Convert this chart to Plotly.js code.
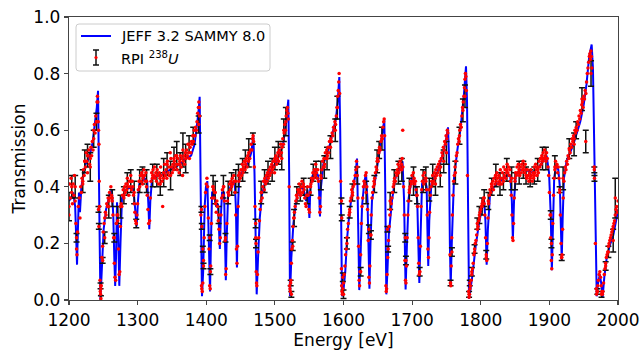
<!DOCTYPE html>
<html><head><meta charset="utf-8">
<script src="https://cdn.plot.ly/plotly-3.0.1.min.js"></script>
<style>html,body{margin:0;padding:0;background:#fff}#chart{width:642px;height:350px}</style>
</head><body><div id="chart"></div>
<script>
// ---------------- data ----------------
const xTickVals = [1200,1300,1400,1500,1600,1700,1800,1900,2000];
const xTickText = ['1200','1300','1400','1500','1600','1700','1800','1900','2000'];
const yTickVals = [0,0.2,0.4,0.6,0.8,1.0];
const yTickText = ['0.0','0.2','0.4','0.6','0.8','1.0'];
const seriesNames = ['JEFF 3.2 SAMMY 8.0', 'RPI <sup>238</sup><i>U</i>'];

// SAMMY fit curve [energy eV, transmission]
const curvePts = [
[1200,.35],[1203,.36],[1206,.38],[1209,.33],[1210.5,.22],[1211.7,.125],[1213,.25],[1214.5,.38],[1216,.31],[1218,.40],
[1220,.43],[1224,.48],[1229,.50],[1234,.55],[1238,.63],[1240.5,.68],[1242.3,.739],[1243.5,.55],[1244.5,.25],[1245.8,0],
[1247,.07],[1248,.13],[1250.5,.25],[1254,.32],[1258.8,.37],[1262.5,.39],[1264.5,.30],[1266,.15],[1267.3,.05],[1268.5,.15],
[1270,.345],[1271.5,.25],[1273.3,.05],[1275,.20],[1277.2,.36],[1283,.39],[1290,.40],[1294,.39],[1296.5,.33],[1298.6,.26],
[1300.5,.35],[1302.5,.41],[1310,.43],[1314,.42],[1315.8,.33],[1317,.25],[1318.5,.35],[1321,.43],[1329,.44],[1335,.44],
[1340,.45],[1348,.46],[1355,.47],[1362,.48],[1370,.50],[1378,.51],[1383,.55],[1386,.60],[1388.5,.66],[1390.4,.718],
[1391.8,.50],[1392.8,.20],[1393.8,.013],[1395.5,.10],[1397.7,.33],[1399.5,.40],[1401.6,.42],[1403.5,.25],[1405.5,.03],[1407,.22],
[1408.5,.38],[1411,.38],[1414.5,.33],[1417,.34],[1418.5,.27],[1419.8,.18],[1421.2,.29],[1423,.38],[1426,.38],[1427.3,.25],
[1428.5,.07],[1429.8,.22],[1432,.38],[1437,.41],[1441.5,.42],[1443.3,.32],[1444.7,.115],[1446.2,.32],[1448,.44],[1455,.46],
[1462,.49],[1465.5,.52],[1468.6,.58],[1470.3,.45],[1471.8,.22],[1473.5,.02],[1475.5,.15],[1478,.29],[1481,.37],[1485,.41],
[1490,.44],[1497,.47],[1503,.49],[1508,.52],[1512,.55],[1516,.62],[1518.2,.67],[1519.6,.708],[1520.8,.45],[1522,.013],
[1524,.15],[1527,.27],[1531,.35],[1535,.39],[1540,.40],[1543,.38],[1545.5,.35],[1547.5,.39],[1549,.35],[1550.3,.29],
[1551.8,.40],[1555,.44],[1559,.46],[1563,.44],[1564.5,.38],[1565.7,.295],[1567.2,.40],[1570.6,.48],[1575,.51],[1580.3,.55],
[1585,.60],[1589,.64],[1591.5,.70],[1593.9,.788],[1595.2,.60],[1596.5,.25],[1597.8,.013],[1600.2,.04],[1602.6,.10],[1605,.21],
[1607.5,.28],[1612.4,.38],[1617.2,.44],[1619.7,.50],[1621.3,.30],[1623,.035],[1624.8,.15],[1627,.33],[1630,.41],[1632.8,.448],
[1635,.35],[1636.3,.20],[1637.8,.04],[1639.3,.20],[1641.5,.35],[1644,.39],[1648.8,.47],[1653.6,.55],[1657,.60],[1659.5,.636],
[1660.8,.40],[1662.4,.02],[1664,.10],[1666,.23],[1670.6,.35],[1675.5,.43],[1682.8,.47],[1686,.49],[1688.3,.35],[1690.5,.037],
[1692.5,.20],[1695,.36],[1699.5,.43],[1702,.43],[1705,.40],[1707.5,.35],[1709,.20],[1710.5,.06],[1712,.20],[1714.4,.41],
[1718,.43],[1721.2,.40],[1722.3,.25],[1723.5,.12],[1725,.28],[1728,.41],[1732,.43],[1736.7,.45],[1744,.51],[1749,.56],
[1752.3,.61],[1753.8,.50],[1755,.20],[1756.2,.05],[1757.8,.20],[1761,.43],[1765.9,.53],[1770.8,.61],[1775.6,.73],[1778.5,.826],
[1780,.70],[1781.5,.30],[1782.9,.004],[1784.5,.03],[1787.7,.084],[1792.6,.19],[1797.4,.27],[1802.3,.33],[1805,.35],[1806.8,.28],
[1808.6,.125],[1810.4,.25],[1813.4,.37],[1819.2,.40],[1829,.42],[1838,.44],[1843,.44],[1845.3,.35],[1846.8,.213],[1848.5,.35],
[1851,.44],[1857,.46],[1865,.46],[1875,.45],[1885,.47],[1890,.49],[1896,.51],[1899.5,.45],[1902,.30],[1903.6,.105],
[1905.3,.30],[1907,.43],[1910,.48],[1913,.46],[1915.3,.40],[1916.8,.28],[1918,.14],[1919.3,.28],[1921.2,.43],[1925,.49],
[1930,.52],[1935,.55],[1940,.59],[1945,.63],[1950,.69],[1954,.76],[1958,.86],[1961.6,.903],[1963.5,.82],[1965.5,.47],
[1967.3,.15],[1969,.013],[1971,.06],[1973.5,.09],[1975.5,.06],[1977.6,.01],[1980,.08],[1983.5,.149],[1988.3,.195],[1993.2,.23],
[1998,.29],[2000,.32]
];

// RPI measured points with uncertainty [energy, transmission, error]
const errPts = [
[1200,.33,.05],[1204,.40,.04],[1209,.40,.04],[1211,.22,.015],[1220,.42,.04],[1223,.49,.04],[1227,.51,.04],[1231,.47,.05],
[1236,.57,.03],[1240,.63,.03],[1243,.32,.01],[1243.5,.26,.01],[1246,.05,.01],[1246.5,.005,.01],[1249,.14,.01],[1252,.22,.02],
[1258,.33,.04],[1263,.36,.03],[1266,.22,.015],[1271,.30,.03],[1275,.33,.04],[1280,.37,.03],[1285,.41,.04],[1290,.42,.04],
[1295,.38,.04],[1298,.27,.015],[1303,.42,.04],[1307,.44,.03],[1313,.42,.04],[1322,.44,.04],[1328,.44,.04],[1333,.41,.04],
[1338,.45,.05],[1343,.48,.04],[1348,.44,.05],[1353,.50,.04],[1357,.51,.05],[1362,.48,.04],[1366,.53,.06],[1370,.50,.05],
[1375,.55,.03],[1381,.58,.03],[1389,.62,.03],[1393,.32,.01],[1393.5,.26,.01],[1395,.18,.01],[1396,.12,.01],[1405,.22,.01],
[1406,.10,.01],[1410,.40,.04],[1413,.38,.04],[1418,.30,.03],[1425,.40,.04],[1428,.22,.015],[1432,.38,.04],[1437,.41,.04],
[1443,.42,.04],[1447,.44,.04],[1453,.46,.04],[1457,.49,.04],[1462,.52,.05],[1468,.57,.02],[1472,.27,.015],[1472.5,.20,.015],
[1480,.38,.04],[1485,.42,.04],[1490,.45,.04],[1496,.46,.04],[1500,.50,.04],[1505,.52,.04],[1510,.50,.04],[1513,.60,.04],
[1516,.63,.05],[1523,.06,.01],[1524,.02,.01],[1526,.19,.015],[1528,.29,.03],[1532,.37,.03],[1537,.38,.03],[1542,.40,.03],
[1547,.37,.03],[1552,.40,.03],[1556,.45,.03],[1560,.46,.03],[1567,.44,.05],[1572,.47,.04],[1576,.50,.04],[1581,.54,.04],
[1588,.60,.04],[1591,.68,.04],[1597,.35,.01],[1597.5,.29,.01],[1599,.08,.015],[1600,.02,.015],[1605,.20,.02],[1609,.31,.02],
[1613,.38,.03],[1620,.44,.03],[1625,.10,.015],[1633,.38,.04],[1637,.25,.015],[1640,.23,.015],[1645,.41,.03],[1649,.49,.04],
[1652,.53,.03],[1656,.57,.04],[1664,.25,.01],[1665,.18,.01],[1668,.35,.03],[1674,.42,.04],[1680,.45,.04],[1685,.46,.04],
[1690,.22,.015],[1691,.14,.015],[1696,.39,.04],[1702,.42,.05],[1707,.37,.03],[1711,.10,.015],[1716,.42,.04],[1720,.43,.04],
[1725,.39,.04],[1730,.44,.04],[1734,.41,.04],[1741,.44,.04],[1746,.49,.04],[1750,.52,.04],[1756,.06,.01],[1758,.17,.015],
[1763,.45,.04],[1769,.58,.03],[1774,.67,.04],[1777,.72,.04],[1783,.02,.01],[1784,.06,.01],[1787,.10,.015],[1791,.18,.015],
[1795,.27,.02],[1798,.30,.03],[1802,.33,.03],[1805,.36,.03],[1808,.16,.015],[1811,.35,.03],[1816,.40,.03],[1822,.44,.04],
[1828,.41,.04],[1833,.42,.03],[1838,.46,.04],[1845,.43,.04],[1850,.42,.03],[1856,.45,.04],[1862,.46,.03],[1866,.44,.03],
[1872,.43,.03],[1878,.44,.03],[1883,.46,.04],[1890,.50,.04],[1895,.50,.04],[1902,.30,.015],[1903,.20,.015],[1908,.47,.04],
[1915,.39,.01],[1918,.15,.01],[1920,.43,.04],[1929,.535,.035],[1936,.55,.04],[1939,.60,.03],[1947.5,.71,.04],[1953,.56,.04],
[1960.7,.80,.045],[1965.5,.46,.01],[1965.7,.43,.01],[1970,.03,.01],[1976,.02,.01],[1982,.12,.015],[1986,.17,.02],[1993,.21,.04],
[1996,.36,.07]
];

// RPI measured points (finer binning) [energy, transmission]
const dots1200 = [
[1200,.30],[1201,.41],[1202,.36],[1203,.43],[1204,.38],[1205,.34],[1206,.41],[1207,.37],[1208,.44],[1209,.35],[1210,.27],[1211,.18],
[1211.6,.16],[1212.4,.24],[1213.5,.33],[1215,.36],[1216,.29],[1217,.40],[1218,.38],[1219,.43],[1220,.41],[1221,.46],[1222,.44],
[1223,.49],[1224,.47],[1225,.52],[1226,.49],[1227,.45],[1228,.51],[1229,.53],[1230,.48],[1231,.50],[1232,.54],[1233,.51],[1234,.56],
[1235,.53],[1236,.60],[1237,.62],[1238,.59],[1239,.65],[1240,.63],[1240.8,.70],[1241.4,.72],[1242,.70],[1242.6,.63],[1243,.60],
[1243.6,.55],[1244,.42],[1244.4,.33],[1245.2,.07],[1245.6,.03],[1246,.02],[1246.4,.04],[1247,.05],[1248,.15],[1249,.19],[1250,.24],
[1251,.27],[1252,.29],[1253,.31],[1254,.30],[1255,.34],[1256,.33],[1257,.36],[1258,.35],[1259,.38],[1260,.36],[1261,.40],[1262,.37],
[1263,.35],[1264,.30],[1265,.22],[1266,.13],[1267,.08],[1268,.07],[1269,.27],[1270,.30],[1271,.28],[1272,.18],[1273,.09],[1274,.10],
[1275,.26],[1276,.34],[1277,.33],[1278,.37],[1279,.39],[1280,.36],[1281,.40],[1282,.38],[1283,.41],[1284,.39],[1285,.43],[1286,.40],
[1287,.37],[1288,.42],[1289,.40],[1290,.44],[1291,.39],[1292,.42],[1293,.40],[1294,.37],[1295,.34],[1296,.31],[1297,.28],[1298,.27],
[1299,.30],[1300,.34],[1301,.39],[1302,.42],[1303,.40],[1304,.44],[1305,.42],[1306,.45],[1307,.41],[1308,.43],[1309,.46],[1310,.44],
[1311,.42],[1312,.45],[1313,.40],[1314,.37],[1315,.32],[1316,.27],[1317.5,.28],[1318.5,.36],[1319.5,.42],[1320.5,.45],[1321.5,.43],
[1322.5,.46],[1323.5,.44],[1324.5,.47],[1325.5,.43],[1326.5,.45],[1327.5,.42],[1328.5,.46],[1329.5,.44],[1330.5,.41],[1331.5,.45],
[1332.5,.43],[1333.5,.47],[1334.5,.44],[1335.5,.42],[1336.5,.33],[1337.5,.43],[1338.5,.45],[1339.5,.48],[1340.5,.44],[1341.5,.46],
[1342.5,.43],[1343.5,.49],[1344.5,.45],[1345.5,.47],[1346.5,.44],[1347.5,.52],[1348.5,.50],[1349.5,.47],[1350.5,.45],[1351.5,.48],
[1352.5,.46],[1353.5,.49],[1354.5,.47],[1355.5,.51],[1356.5,.48],[1357.5,.46],[1358.5,.50],[1359.5,.48],[1360.5,.45],[1361.5,.49],
[1362.5,.51],[1363.5,.47],[1364.5,.50],[1365.5,.44],[1366.5,.49],[1367.5,.51],[1368.5,.48],[1369.5,.52],[1370.5,.50],[1371.5,.53],
[1372.5,.51],[1373.5,.55],[1374.5,.52],[1375.5,.50],[1376.5,.54],[1377.5,.52],[1378.5,.56],[1379.5,.55],[1380.5,.58],[1381.5,.56],
[1382.5,.60],[1383.5,.58],[1384.5,.61],[1385.5,.60],[1386.5,.63],[1387.5,.66],[1388.5,.68],[1389.2,.70],[1389.8,.68],[1390.4,.65],
[1392.2,.30]
];
const dots1400 = [
[1393,.05],[1393.5,.04],[1394.2,.03],[1395,.06],[1396,.14],[1397,.22],[1398,.33],[1399,.38],[1400,.41],[1401,.43],[1402,.40],
[1403,.29],[1404,.18],[1405,.05],[1405.8,.04],[1406.5,.12],[1407.5,.27],[1408.5,.36],[1409.5,.40],[1410.5,.39],[1411.5,.36],
[1412.5,.38],[1413.5,.34],[1414.5,.31],[1415.5,.35],[1416.5,.33],[1417.5,.28],[1418.5,.25],[1419.5,.20],[1420.5,.22],[1421.5,.30],
[1422.5,.36],[1423.5,.39],[1424.5,.37],[1425.5,.40],[1426.5,.35],[1427.5,.21],[1428.3,.09],[1429,.11],[1430,.27],[1431,.35],
[1432,.38],[1433,.37],[1434,.41],[1435,.39],[1436,.42],[1437,.40],[1438,.43],[1439,.41],[1440,.44],[1441,.42],[1442,.38],[1443,.30],
[1444,.18],[1444.8,.13],[1445.5,.19],[1446.5,.33],[1447.5,.42],[1448.5,.45],[1449.5,.43],[1450.5,.46],[1451.5,.44],[1452.5,.48],
[1453.5,.45],[1454.5,.47],[1455.5,.49],[1456.5,.46],[1457.5,.48],[1458.5,.50],[1459.5,.47],[1460.5,.51],[1461.5,.49],[1462.5,.52],
[1463.5,.50],[1464.5,.53],[1465.5,.55],[1466.5,.53],[1467.5,.57],[1468.3,.58],[1469,.56],[1470,.47],[1471,.33],[1472,.22],
[1472.8,.10],[1473.3,.06],[1473.8,.05],[1474.5,.09],[1475.5,.17],[1476.5,.22],[1477.5,.28],[1478.5,.32],[1479.5,.35],[1480.5,.38],
[1481.5,.36],[1482.5,.40],[1483.5,.42],[1484.5,.39],[1485.5,.43],[1486.5,.41],[1487.5,.44],[1488.5,.42],[1489.5,.45],[1490.5,.43],
[1491.5,.46],[1492.5,.44],[1493.5,.47],[1494.5,.45],[1495.5,.48],[1496.5,.46],[1497.5,.49],[1498.5,.47],[1499.5,.45],[1500.5,.49],
[1501.5,.51],[1502.5,.48],[1503.5,.50],[1504.5,.52],[1505.5,.49],[1506.5,.53],[1507.5,.51],[1508.5,.55],[1509.5,.52],[1510.5,.54],
[1511.5,.57],[1512.5,.55],[1513.5,.59],[1514.5,.62],[1515.5,.60],[1516.5,.65],[1517.5,.67],[1518.3,.68],[1519,.66],[1519.6,.64],
[1520.8,.40],[1521.5,.05],[1522,.04],[1522.5,.03],[1523.2,.07],[1524,.13],[1524.8,.18],[1525.5,.21],[1526.5,.26],[1527.5,.29],
[1528.5,.31],[1529.5,.33],[1530.5,.35],[1531.5,.37],[1532.5,.36],[1533.5,.39],[1534.5,.38],[1535.5,.41],[1536.5,.39],[1537.5,.37],
[1538.5,.40],[1539.5,.42],[1540.5,.38],[1541.5,.41],[1542.5,.39],[1543.5,.36],[1544.5,.34],[1545.5,.33],[1546.5,.37],[1547.5,.40],
[1548.5,.37],[1549.5,.32],[1550.5,.31],[1551.5,.38],[1552.5,.41],[1553.5,.43],[1554.5,.42],[1555.5,.45],[1556.5,.43],[1557.5,.46],
[1558.5,.44],[1559.5,.48],[1560.5,.45],[1561.5,.43],[1562.5,.46],[1563.5,.42],[1564.5,.36],[1565.5,.31],[1566.5,.33],[1567.5,.43],
[1568.5,.46],[1569.5,.49],[1570.5,.47],[1571.5,.50],[1572.5,.48],[1573.5,.52],[1574.5,.50],[1575.5,.53],[1576.5,.51],[1577.5,.54],
[1578.5,.52],[1579.5,.56],[1580.5,.54],[1581.5,.57],[1582.5,.56],[1583.5,.59],[1584.5,.58],[1585.5,.61],[1586.5,.60],[1587.5,.63],
[1588.5,.62],[1589.5,.65],[1590.5,.68],[1591.5,.72],[1592.3,.74],[1593,.77],[1593.6,.80],[1594.4,.73],[1595.8,.42],[1597,.11]
];
const dots1600 = [
[1597.3,.05],[1597.8,.03],[1598.3,.02],[1599,.04],[1600,.06],[1601,.09],[1602,.12],[1603,.16],[1604,.18],[1605,.22],[1606,.25],
[1607,.27],[1608,.30],[1609,.32],[1610,.35],[1611,.36],[1612,.39],[1613,.37],[1614,.40],[1615,.42],[1616,.41],[1617,.44],[1618,.46],
[1619,.49],[1620,.47],[1621,.36],[1622,.19],[1622.8,.07],[1623.4,.05],[1624.2,.10],[1625,.16],[1626,.27],[1627,.33],[1628,.36],
[1629,.40],[1630,.42],[1631,.41],[1632,.44],[1633,.45],[1634,.40],[1635,.32],[1636,.21],[1637,.08],[1637.8,.06],[1638.5,.12],
[1639.5,.23],[1640.5,.30],[1641.5,.36],[1642.5,.38],[1643.5,.40],[1644.5,.42],[1645.5,.43],[1646.5,.45],[1647.5,.47],[1648.5,.46],
[1649.5,.50],[1650.5,.49],[1651.5,.52],[1652.5,.54],[1653.5,.53],[1654.5,.56],[1655.5,.58],[1656.5,.57],[1657.5,.61],[1658.5,.63],
[1659.3,.64],[1660,.58],[1661.8,.05],[1662.3,.03],[1662.8,.04],[1663.5,.09],[1664.5,.15],[1665.5,.21],[1666.5,.26],[1667.5,.30],
[1668.5,.32],[1669.5,.34],[1670.5,.36],[1671.5,.38],[1672.5,.40],[1673.5,.41],[1674.5,.43],[1675.5,.42],[1676.5,.45],[1677.5,.44],
[1678.5,.46],[1679.5,.48],[1680.5,.45],[1681.5,.47],[1682.5,.49],[1683.5,.46],[1684.5,.48],[1685.5,.50],[1686.3,.60],[1686.5,.47],
[1687.5,.40],[1688.5,.30],[1689.5,.14],[1690.3,.07],[1691,.06],[1691.8,.12],[1692.8,.22],[1693.8,.30],[1694.8,.35],[1695.8,.38],
[1696.8,.40],[1697.8,.42],[1698.8,.41],[1699.8,.44],[1700.8,.42],[1701.8,.45],[1702.8,.43],[1703.8,.41],[1704.8,.42],[1705.8,.39],
[1706.8,.37],[1707.8,.33],[1708.8,.22],[1709.6,.13],[1710.4,.09],[1711.2,.10],[1712,.19],[1713,.33],[1714,.39],[1715,.42],[1716,.44],
[1717,.41],[1718,.45],[1719,.43],[1720,.42],[1721,.39],[1722,.30],[1723,.18],[1723.8,.15],[1724.6,.22],[1725.5,.31],[1726.5,.37],
[1727.5,.40],[1728.5,.42],[1729.5,.41],[1730.5,.44],[1731.5,.42],[1732.5,.45],[1733.5,.43],[1734.5,.46],[1735.5,.44],[1736.5,.47],
[1737.5,.45],[1738.5,.48],[1739.5,.46],[1740.5,.49],[1741.5,.47],[1742.5,.50],[1743.5,.52],[1744.5,.51],[1745.5,.54],[1746.5,.53],
[1747.5,.56],[1748.5,.55],[1749.5,.58],[1750.5,.57],[1751.3,.60],[1752,.59],[1755.2,.16],[1755.8,.06],[1756.4,.05],[1757,.12],
[1757.8,.22],[1758.6,.30],[1759.5,.37],[1760.5,.42],[1761.5,.44],[1762.5,.47],[1763.5,.49],[1764.5,.51],[1765.5,.52],[1766.5,.55],
[1767.5,.57],[1768.5,.56],[1769.5,.60],[1770.5,.62],[1771.5,.61],[1772.5,.65],[1773.5,.68],[1774.5,.70],[1775.5,.72],[1776.3,.75],
[1777,.78],[1777.6,.80],[1778.3,.79],[1779,.74],[1780.6,.44]
];
const dots1800 = [
[1782.3,.03],[1783,.01],[1783.6,.02],[1784.3,.04],[1785,.05],[1786,.07],[1787,.09],[1788,.11],[1789,.13],[1790,.16],[1791,.17],
[1792,.20],[1793,.21],[1794,.23],[1795,.25],[1796,.26],[1797,.28],[1798,.29],[1799,.31],[1800,.32],[1801,.33],[1802,.34],[1803,.35],
[1804,.36],[1805,.34],[1806,.30],[1807,.22],[1808,.15],[1808.8,.14],[1809.6,.20],[1810.5,.29],[1811.5,.34],[1812.5,.37],[1813.5,.39],
[1814.5,.38],[1815.5,.41],[1816.5,.40],[1817.5,.42],[1818.5,.39],[1819.5,.43],[1820.5,.41],[1821.5,.44],[1822.5,.42],[1823.5,.45],
[1824.5,.43],[1825.5,.41],[1826.5,.44],[1827.5,.42],[1828.5,.46],[1829.5,.43],[1830.5,.41],[1831.5,.45],[1832.5,.43],[1833.5,.47],
[1834.5,.44],[1835.5,.46],[1836.5,.43],[1837.5,.45],[1838.5,.48],[1839.5,.45],[1840.5,.47],[1841.5,.44],[1842.5,.46],[1843.5,.42],
[1844.5,.37],[1845.5,.30],[1846.3,.22],[1847,.21],[1847.8,.27],[1848.8,.36],[1849.8,.43],[1850.8,.45],[1851.8,.44],[1852.8,.47],
[1853.8,.45],[1854.8,.48],[1855.8,.46],[1856.8,.44],[1857.8,.47],[1858.8,.45],[1859.8,.48],[1860.8,.46],[1861.8,.49],[1862.8,.47],
[1863.8,.45],[1864.8,.48],[1866,.46],[1867,.43],[1868,.46],[1869,.44],[1870,.42],[1871,.45],[1872,.43],[1873,.46],[1874,.44],
[1875,.42],[1876,.45],[1877,.43],[1878,.47],[1879,.45],[1880,.48],[1881,.46],[1882,.44],[1883,.47],[1884,.45],[1885,.49],[1886,.47],
[1887,.50],[1888,.48],[1889,.51],[1890,.49],[1891,.52],[1892,.50],[1893,.53],[1894,.51],[1895,.49],[1896,.52],[1897,.50],[1898,.47],
[1899,.44],[1900,.38],[1901,.30],[1902,.22],[1902.8,.14],[1903.5,.11],[1904.2,.16],[1905,.27],[1906,.37],[1907,.43],[1908,.46],
[1909,.49],[1910,.47],[1911,.48],[1912,.45],[1913,.47],[1914,.43],[1915,.38],[1916,.30],[1917,.20],[1917.8,.15],[1918.5,.16],
[1919.3,.25],[1920.2,.36],[1921.2,.42],[1922.2,.45],[1923.2,.47],[1924.2,.46],[1925.2,.49],[1926.2,.48],[1927.2,.51],[1928.2,.50],
[1929.2,.53],[1930.2,.52],[1931.2,.55],[1932.2,.54],[1933.2,.57],[1934.2,.56],[1935.2,.58],[1936.2,.57],[1937.2,.60],[1938.2,.59],
[1939.2,.61],[1940.2,.60],[1941.2,.63],[1942.2,.62],[1943.2,.65],[1944.2,.64],[1945.2,.67],[1946.2,.66],[1947.2,.69],[1948.2,.70],
[1949.2,.68],[1950.2,.72],[1951.2,.71],[1952.2,.74],[1953.2,.73],[1954.2,.77],[1955.2,.80],[1956.2,.82],[1957.2,.84],[1958.2,.86],
[1959,.87],[1959.8,.85],[1960.5,.88],[1961.2,.86],[1962,.82],[1965.3,.47],[1967,.20],[1968.2,.04],[1968.8,.02],[1969.5,.03],
[1970.5,.05],[1971.5,.07],[1972.5,.09],[1973.5,.10],[1974.5,.08],[1975.5,.05],[1976.5,.03],[1977.3,.02],[1978,.03],[1979,.06],
[1980,.09],[1981,.11],[1982,.13],[1983,.15],[1984,.16],[1985,.17],[1986,.19],[1987,.20],[1988,.21],[1989,.22],[1990,.23],[1991,.24],
[1992,.25],[1993,.26],[1994,.27],[1995,.28],[1996,.30],[1997,.32],[1998,.33],[1999,.31],[2000,.35]
];

// ---------------- chart ----------------
const dots = dots1200.concat(dots1400, dots1600, dots1800);
const W = 642, H = 350, M = {l:69, r:24, t:17, b:50};
const PW = W - M.l - M.r, PH = H - M.t - M.b;
const fx = p => (p - M.l) / PW;          // pixel -> paper x
const fy = p => (H - M.b - p) / PH;      // pixel -> paper y

const traces = [
  {x: curvePts.map(p=>p[0]), y: curvePts.map(p=>p[1]), type:'scatter', mode:'lines',
   line:{color:'#0000ff', width:2}, name: seriesNames[0], hoverinfo:'skip'},
  {x: errPts.map(p=>p[0]), y: errPts.map(p=>p[1]), type:'scatter', mode:'markers',
   marker:{color:'#ff0000', size:3.5},
   error_y:{type:'data', array: errPts.map(p=>p[2]), visible:true, color:'#111111', thickness:1.5, width:3},
   name: seriesNames[1], hoverinfo:'skip'},
  {x: dots.map(p=>p[0]), y: dots.map(p=>p[1]), type:'scatter', mode:'markers',
   marker:{color:'#ff0000', size:3.5}, showlegend:false, hoverinfo:'skip'}
];

// hand-built legend (matplotlib style)
const L = {x0:76, x1:270, y0:24, y1:71, r:3};
const rr = `M ${fx(L.x0+L.r)} ${fy(L.y0)} L ${fx(L.x1-L.r)} ${fy(L.y0)} Q ${fx(L.x1)} ${fy(L.y0)} ${fx(L.x1)} ${fy(L.y0+L.r)} `+
           `L ${fx(L.x1)} ${fy(L.y1-L.r)} Q ${fx(L.x1)} ${fy(L.y1)} ${fx(L.x1-L.r)} ${fy(L.y1)} `+
           `L ${fx(L.x0+L.r)} ${fy(L.y1)} Q ${fx(L.x0)} ${fy(L.y1)} ${fx(L.x0)} ${fy(L.y1-L.r)} `+
           `L ${fx(L.x0)} ${fy(L.y0+L.r)} Q ${fx(L.x0)} ${fy(L.y0)} ${fx(L.x0+L.r)} ${fy(L.y0)} Z`;
const shapes = [
  {type:'path', path: rr, xref:'paper', yref:'paper', fillcolor:'rgba(255,255,255,0.8)', line:{color:'#cccccc', width:1}},
  {type:'line', xref:'paper', yref:'paper', x0:fx(81), x1:fx(111), y0:fy(36), y1:fy(36), line:{color:'#0000ff', width:2}},
  {type:'line', xref:'paper', yref:'paper', x0:fx(96), x1:fx(96), y0:fy(50), y1:fy(65), line:{color:'#111', width:1.5}},
  {type:'line', xref:'paper', yref:'paper', x0:fx(93), x1:fx(99), y0:fy(50), y1:fy(50), line:{color:'#111', width:1.5}},
  {type:'line', xref:'paper', yref:'paper', x0:fx(93), x1:fx(99), y0:fy(65), y1:fy(65), line:{color:'#111', width:1.5}},
  {type:'circle', xref:'paper', yref:'paper', x0:fx(94.4), x1:fx(97.6), y0:fy(56), y1:fy(59.2), fillcolor:'#ff0000', line:{width:0}}
];
const annotations = [
  {xref:'paper', yref:'paper', x:fx(119), y:fy(36), xanchor:'left', yanchor:'middle', showarrow:false,
   text: seriesNames[0], font:{family:'DejaVu Sans', size:14.5, color:'#000'}},
  {xref:'paper', yref:'paper', x:fx(119), y:fy(58), xanchor:'left', yanchor:'middle', showarrow:false,
   text: seriesNames[1], font:{family:'DejaVu Sans', size:14.5, color:'#000'}}
];

const axisCommon = {showgrid:false, zeroline:false, showline:true, mirror:true, linecolor:'#444', linewidth:1.2,
  ticks:'outside', ticklen:4, tickwidth:1.2, tickcolor:'#444', tickfont:{family:'DejaVu Sans', size:17, color:'#000'}};

const layout = {
  width:W, height:H, margin:M, paper_bgcolor:'#fff', plot_bgcolor:'#fff', showlegend:false,
  font:{family:'DejaVu Sans', size:17, color:'#000'},
  xaxis: Object.assign({}, axisCommon, {range:[1200,2000], tickmode:'array', tickvals:xTickVals, ticktext:xTickText,
    title:{text:'Energy [eV]', font:{family:'DejaVu Sans', size:17, color:'#000'}, standoff:4}}),
  yaxis: Object.assign({}, axisCommon, {range:[0,1], tickmode:'array', tickvals:yTickVals, ticktext:yTickText,
    title:{text:'Transmission', font:{family:'DejaVu Sans', size:17, color:'#000'}, standoff:3}}),
  shapes: shapes, annotations: annotations
};
Plotly.newPlot('chart', traces, layout, {displayModeBar:false, staticPlot:true});
</script></body></html>
